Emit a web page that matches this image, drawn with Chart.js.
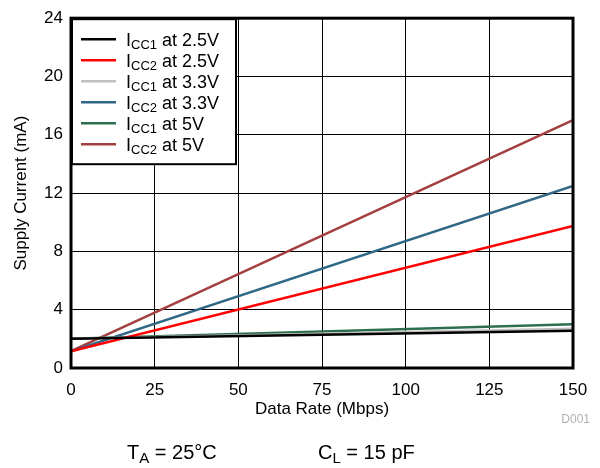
<!DOCTYPE html>
<html>
<head>
<meta charset="utf-8">
<script src="https://cdn.jsdelivr.net/npm/chart.js@4"></script>
<style>
  body { margin: 0; background: #fff; }
  #wrap { width: 600px; height: 468px; }
</style>
</head>
<body>
<div id="wrap"><canvas id="line" width="600" height="468"></canvas></div>
<script>
// data
const rates = [0, 150];
const icc1At25 = [2.0, 2.55];
const icc2At25 = [1.15, 9.75];
const icc1At33 = [2.0, 2.7];
const icc2At33 = [1.15, 12.5];
const icc1At5 = [2.0, 3.0];
const icc2At5 = [1.15, 17.0];
const yTicks = [0, 4, 8, 12, 16, 20, 24];
const xTicks = [0, 25, 50, 75, 100, 125, 150];
const labelSubs = ["CC1", "CC2", "CC1", "CC2", "CC1", "CC2"];
const labelTails = [" at 2.5V", " at 2.5V", " at 3.3V", " at 3.3V", " at 5V", " at 5V"];
const colors = ["#000000", "#ff0000", "#c0c0c0", "#2f6785", "#2d6e4e", "#a3403f"];

const series = [icc1At25, icc2At25, icc1At33, icc2At33, icc1At5, icc2At5];
const FONT = "'Liberation Sans', Arial, sans-serif";

const toPoints = (ys) => ys.map((y, i) => ({ x: rates[i], y: y }));

// subscript legend, frame and footer text
const extras = {
    id: "extras",
    afterDatasetsDraw(chart) {
        const ctx = chart.ctx;
        const a = chart.chartArea;
        ctx.save();
        // legend box
        const bx = a.left, by = a.top, bw = 166, bh = 147;
        ctx.fillStyle = "#fff";
        ctx.fillRect(bx, by, bw, bh);
        ctx.strokeStyle = "#000";
        ctx.lineWidth = 2;
        ctx.strokeRect(bx + 1, by + 1, bw - 2, bh - 2);
        ctx.textBaseline = "alphabetic";
        for (let i = 0; i < labelSubs.length; i++) {
            const y = by + 21 + i * 21;
            ctx.strokeStyle = colors[i];
            ctx.lineWidth = 2.5;
            ctx.beginPath();
            ctx.moveTo(bx + 10, y);
            ctx.lineTo(bx + 45, y);
            ctx.stroke();
            ctx.fillStyle = "#000";
            let x = bx + 55;
            ctx.font = "18px " + FONT;
            ctx.fillText("I", x, y + 7);
            x += ctx.measureText("I").width;
            ctx.font = "13px " + FONT;
            ctx.fillText(labelSubs[i], x, y + 10);
            x += ctx.measureText(labelSubs[i]).width;
            ctx.font = "18px " + FONT;
            ctx.fillText(labelTails[i], x, y + 7);
        }
        // frame
        ctx.strokeStyle = "#000";
        ctx.lineWidth = 3;
        ctx.strokeRect(a.left, a.top, a.right - a.left, a.bottom - a.top);
        // footer
        ctx.fillStyle = "#000";
        ctx.font = "20px " + FONT;
        let x = 127;
        const fy = 459;
        ctx.fillText("T", x, fy);
        x += ctx.measureText("T").width;
        ctx.font = "15px " + FONT;
        ctx.fillText("A", x, fy + 4);
        x += ctx.measureText("A").width;
        ctx.font = "20px " + FONT;
        ctx.fillText(" = 25°C", x, fy);
        x = 318;
        ctx.fillText("C", x, fy);
        x += ctx.measureText("C").width;
        ctx.font = "15px " + FONT;
        ctx.fillText("L", x, fy + 4);
        x += ctx.measureText("L").width;
        ctx.font = "20px " + FONT;
        ctx.fillText(" = 15 pF", x, fy);
        ctx.fillStyle = "#b0b0b0";
        ctx.font = "12px " + FONT;
        ctx.textAlign = "right";
        ctx.fillText("D001", 590, 423);
        ctx.restore();
    },
};

new Chart("line", {
    type: "line",
    plugins: [extras],
    data: {
        datasets: series.map((s, i) => ({
            label: "I" + labelSubs[i] + labelTails[i],
            data: toPoints(s),
            borderColor: colors[i],
            backgroundColor: colors[i],
            borderWidth: 2.5,
            pointRadius: 0,
            fill: false,
        })),
    },
    options: {
        responsive: false,
        animation: false,
        layout: { padding: { top: 13, right: 27, left: 7, bottom: 48 } },
        plugins: { legend: { display: false }, tooltip: { enabled: false } },
        scales: {
            x: {
                type: "linear",
                min: 0,
                max: 150,
                afterBuildTicks: (axis) => { axis.ticks = xTicks.map((v) => ({ value: v })); },
                afterFit: (axis) => { axis.height = 52; },
                grid: { color: "#000", lineWidth: 1, drawTicks: false },
                border: { display: false },
                ticks: { color: "#000", font: { family: FONT, size: 17 }, padding: 12, maxRotation: 0 },
                title: { display: true, text: "Data Rate (Mbps)", color: "#000", font: { family: FONT, size: 17 }, padding: { top: 0, bottom: 0 } },
            },
            y: {
                min: 0,
                max: 24,
                afterBuildTicks: (axis) => { axis.ticks = yTicks.map((v) => ({ value: v })); },
                afterFit: (axis) => { axis.width = 64; },
                grid: { color: "#000", lineWidth: 1, drawTicks: false },
                border: { display: false },
                ticks: { color: "#000", font: { family: FONT, size: 17 }, padding: 8 },
                title: { display: true, text: "Supply Current (mA)", color: "#000", font: { family: FONT, size: 17 }, padding: { bottom: 4 } },
            },
        },
    },
});
</script>
</body>
</html>
